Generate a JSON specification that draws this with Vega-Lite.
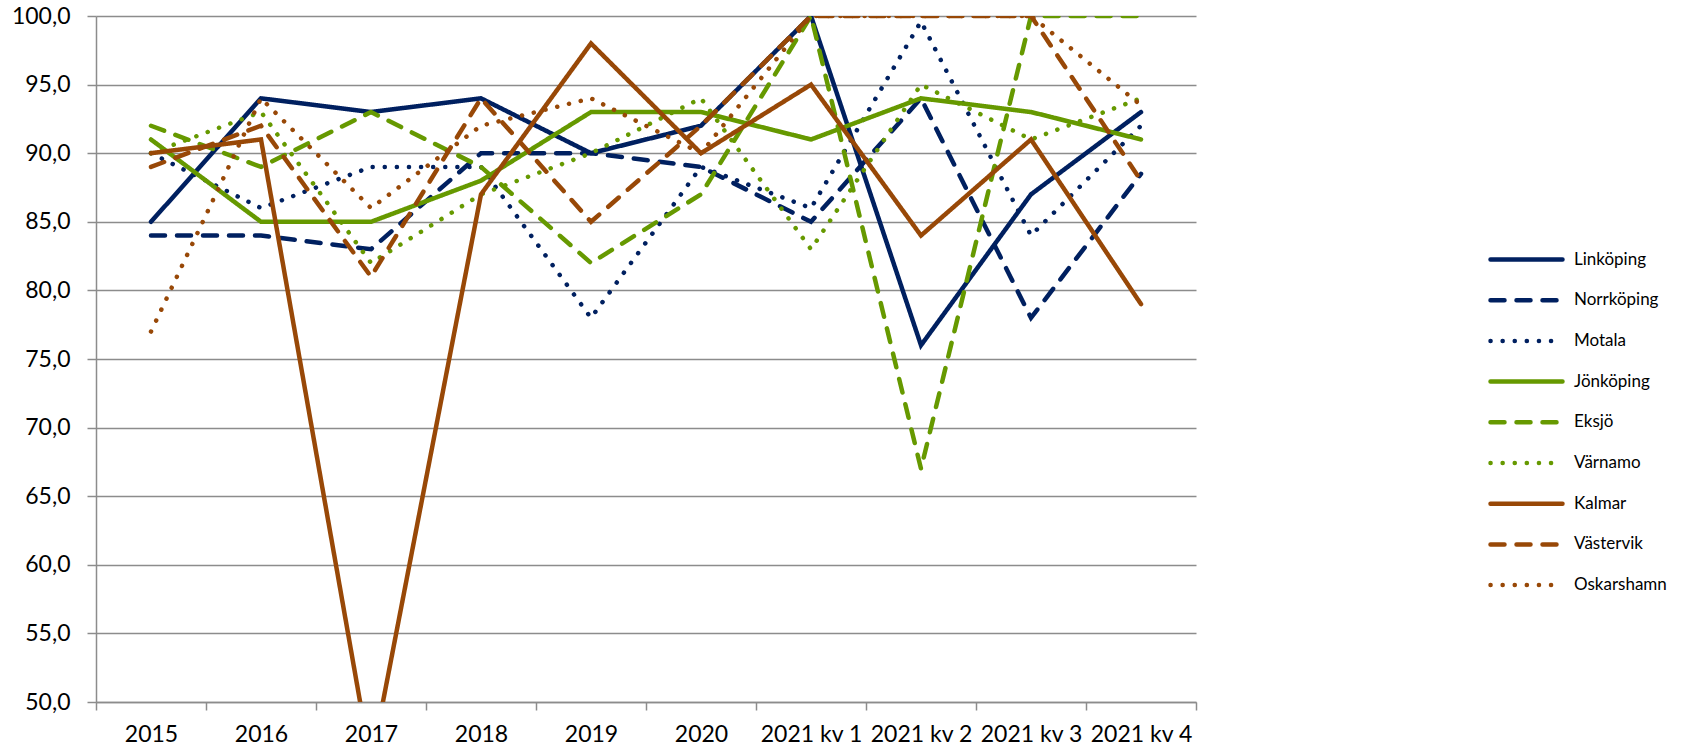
{
  "$schema": "https://vega.github.io/schema/vega-lite/v6.json",
  "width": 1100,
  "height": 686,
  "autosize": {"type": "none"},
  "padding": {"left": 96, "top": 16, "right": 491, "bottom": 47},
  "background": "white",
  "config": {"view": {"stroke": null}, "font": "Lato"},
  "data": {
    "values": [
      {"c": "Linköping", "t": "2015", "v": 85}, {"c": "Linköping", "t": "2016", "v": 94}, {"c": "Linköping", "t": "2017", "v": 93}, {"c": "Linköping", "t": "2018", "v": 94}, {"c": "Linköping", "t": "2019", "v": 90}, {"c": "Linköping", "t": "2020", "v": 92}, {"c": "Linköping", "t": "2021 kv 1", "v": 100}, {"c": "Linköping", "t": "2021 kv 2", "v": 76}, {"c": "Linköping", "t": "2021 kv 3", "v": 87}, {"c": "Linköping", "t": "2021 kv 4", "v": 93},
      {"c": "Norrköping", "t": "2015", "v": 84}, {"c": "Norrköping", "t": "2016", "v": 84}, {"c": "Norrköping", "t": "2017", "v": 83}, {"c": "Norrköping", "t": "2018", "v": 90}, {"c": "Norrköping", "t": "2019", "v": 90}, {"c": "Norrköping", "t": "2020", "v": 89}, {"c": "Norrköping", "t": "2021 kv 1", "v": 85}, {"c": "Norrköping", "t": "2021 kv 2", "v": 94}, {"c": "Norrköping", "t": "2021 kv 3", "v": 78}, {"c": "Norrköping", "t": "2021 kv 4", "v": 88.5},
      {"c": "Motala", "t": "2015", "v": 90}, {"c": "Motala", "t": "2016", "v": 86}, {"c": "Motala", "t": "2017", "v": 89}, {"c": "Motala", "t": "2018", "v": 89}, {"c": "Motala", "t": "2019", "v": 78}, {"c": "Motala", "t": "2020", "v": 89}, {"c": "Motala", "t": "2021 kv 1", "v": 86}, {"c": "Motala", "t": "2021 kv 2", "v": 99.6}, {"c": "Motala", "t": "2021 kv 3", "v": 84}, {"c": "Motala", "t": "2021 kv 4", "v": 92},
      {"c": "Jönköping", "t": "2015", "v": 91}, {"c": "Jönköping", "t": "2016", "v": 85}, {"c": "Jönköping", "t": "2017", "v": 85}, {"c": "Jönköping", "t": "2018", "v": 88}, {"c": "Jönköping", "t": "2019", "v": 93}, {"c": "Jönköping", "t": "2020", "v": 93}, {"c": "Jönköping", "t": "2021 kv 1", "v": 91}, {"c": "Jönköping", "t": "2021 kv 2", "v": 94}, {"c": "Jönköping", "t": "2021 kv 3", "v": 93}, {"c": "Jönköping", "t": "2021 kv 4", "v": 91},
      {"c": "Eksjö", "t": "2015", "v": 92}, {"c": "Eksjö", "t": "2016", "v": 89}, {"c": "Eksjö", "t": "2017", "v": 93}, {"c": "Eksjö", "t": "2018", "v": 89}, {"c": "Eksjö", "t": "2019", "v": 82}, {"c": "Eksjö", "t": "2020", "v": 87}, {"c": "Eksjö", "t": "2021 kv 1", "v": 100}, {"c": "Eksjö", "t": "2021 kv 2", "v": 67}, {"c": "Eksjö", "t": "2021 kv 3", "v": 100}, {"c": "Eksjö", "t": "2021 kv 4", "v": 100},
      {"c": "Värnamo", "t": "2015", "v": 90}, {"c": "Värnamo", "t": "2016", "v": 93}, {"c": "Värnamo", "t": "2017", "v": 82}, {"c": "Värnamo", "t": "2018", "v": 87}, {"c": "Värnamo", "t": "2019", "v": 90}, {"c": "Värnamo", "t": "2020", "v": 94}, {"c": "Värnamo", "t": "2021 kv 1", "v": 83}, {"c": "Värnamo", "t": "2021 kv 2", "v": 95}, {"c": "Värnamo", "t": "2021 kv 3", "v": 91}, {"c": "Värnamo", "t": "2021 kv 4", "v": 94},
      {"c": "Kalmar", "t": "2015", "v": 90}, {"c": "Kalmar", "t": "2016", "v": 91}, {"c": "Kalmar", "t": "2017", "v": 45.5}, {"c": "Kalmar", "t": "2018", "v": 87}, {"c": "Kalmar", "t": "2019", "v": 98}, {"c": "Kalmar", "t": "2020", "v": 90}, {"c": "Kalmar", "t": "2021 kv 1", "v": 95}, {"c": "Kalmar", "t": "2021 kv 2", "v": 84}, {"c": "Kalmar", "t": "2021 kv 3", "v": 91}, {"c": "Kalmar", "t": "2021 kv 4", "v": 79},
      {"c": "Västervik", "t": "2015", "v": 89}, {"c": "Västervik", "t": "2016", "v": 92}, {"c": "Västervik", "t": "2017", "v": 81}, {"c": "Västervik", "t": "2018", "v": 94}, {"c": "Västervik", "t": "2019", "v": 85}, {"c": "Västervik", "t": "2020", "v": 92}, {"c": "Västervik", "t": "2021 kv 1", "v": 100}, {"c": "Västervik", "t": "2021 kv 2", "v": 100}, {"c": "Västervik", "t": "2021 kv 3", "v": 100}, {"c": "Västervik", "t": "2021 kv 4", "v": 88},
      {"c": "Oskarshamn", "t": "2015", "v": 77}, {"c": "Oskarshamn", "t": "2016", "v": 94}, {"c": "Oskarshamn", "t": "2017", "v": 86}, {"c": "Oskarshamn", "t": "2018", "v": 92}, {"c": "Oskarshamn", "t": "2019", "v": 94}, {"c": "Oskarshamn", "t": "2020", "v": 90}, {"c": "Oskarshamn", "t": "2021 kv 1", "v": 100}, {"c": "Oskarshamn", "t": "2021 kv 2", "v": 100}, {"c": "Oskarshamn", "t": "2021 kv 3", "v": 100}, {"c": "Oskarshamn", "t": "2021 kv 4", "v": 93.5}
    ]
  },
  "mark": {"type": "line", "strokeWidth": 4.5, "strokeCap": "round", "clip": true},
  "encoding": {
    "x": {
      "field": "t", "type": "ordinal",
      "sort": ["2015", "2016", "2017", "2018", "2019", "2020", "2021 kv 1", "2021 kv 2", "2021 kv 3", "2021 kv 4"],
      "scale": {"type": "band", "paddingInner": 0, "paddingOuter": 0},
      "axis": {
        "title": null, "grid": false, "labelAngle": 0, "labelFontSize": 23, "labelColor": "#000000",
        "labelPadding": 13, "labelOverlap": false, "tickBand": "extent", "tickSize": 8,
        "tickColor": "#8c8c8c", "tickWidth": 1.5, "domainColor": "#8c8c8c", "domainWidth": 1.5
      }
    },
    "y": {
      "field": "v", "type": "quantitative",
      "scale": {"domain": [50, 100], "nice": false, "zero": false},
      "axis": {
        "title": null, "values": [50, 55, 60, 65, 70, 75, 80, 85, 90, 95, 100],
        "format": ".1f", "labelExpr": "replace(datum.label, '.', ',')",
        "labelFontSize": 23, "labelColor": "#000000", "labelPadding": 17,
        "grid": true, "gridColor": "#8c8c8c", "gridWidth": 1.5,
        "tickSize": 9, "tickColor": "#8c8c8c", "tickWidth": 1.5,
        "domainColor": "#8c8c8c", "domainWidth": 1.5
      }
    },
    "color": {
      "field": "c", "type": "nominal",
      "scale": {
        "domain": ["Linköping", "Norrköping", "Motala", "Jönköping", "Eksjö", "Värnamo", "Kalmar", "Västervik", "Oskarshamn"],
        "range": ["#002060", "#002060", "#002060", "#669900", "#669900", "#669900", "#984807", "#984807", "#984807"]
      },
      "legend": {
        "title": null, "orient": "none", "legendX": 1422, "legendY": 235, "padding": 0,
        "symbolType": "M-36,0H36", "symbolSize": 4, "symbolStrokeWidth": 4.5,
        "labelFontSize": 17, "labelColor": "#000000", "labelOffset": 39, "rowPadding": 21.7,
        "encode": {"symbols": {"update": {"strokeCap": {"value": "round"}}}}
      }
    },
    "strokeDash": {
      "field": "c", "type": "nominal",
      "scale": {
        "domain": ["Linköping", "Norrköping", "Motala", "Jönköping", "Eksjö", "Värnamo", "Kalmar", "Västervik", "Oskarshamn"],
        "range": [[1, 0], [14, 12], [0.1, 12], [1, 0], [14, 12], [0.1, 12], [1, 0], [14, 12], [0.1, 12]]
      },
      "legend": {
        "title": null, "orient": "none", "legendX": 1422, "legendY": 235, "padding": 0,
        "symbolType": "M-36,0H36", "symbolSize": 4, "symbolStrokeWidth": 4.5,
        "labelFontSize": 17, "labelColor": "#000000", "labelOffset": 39, "rowPadding": 21.7,
        "encode": {"symbols": {"update": {"strokeCap": {"value": "round"}}}}
      }
    }
  }
}
